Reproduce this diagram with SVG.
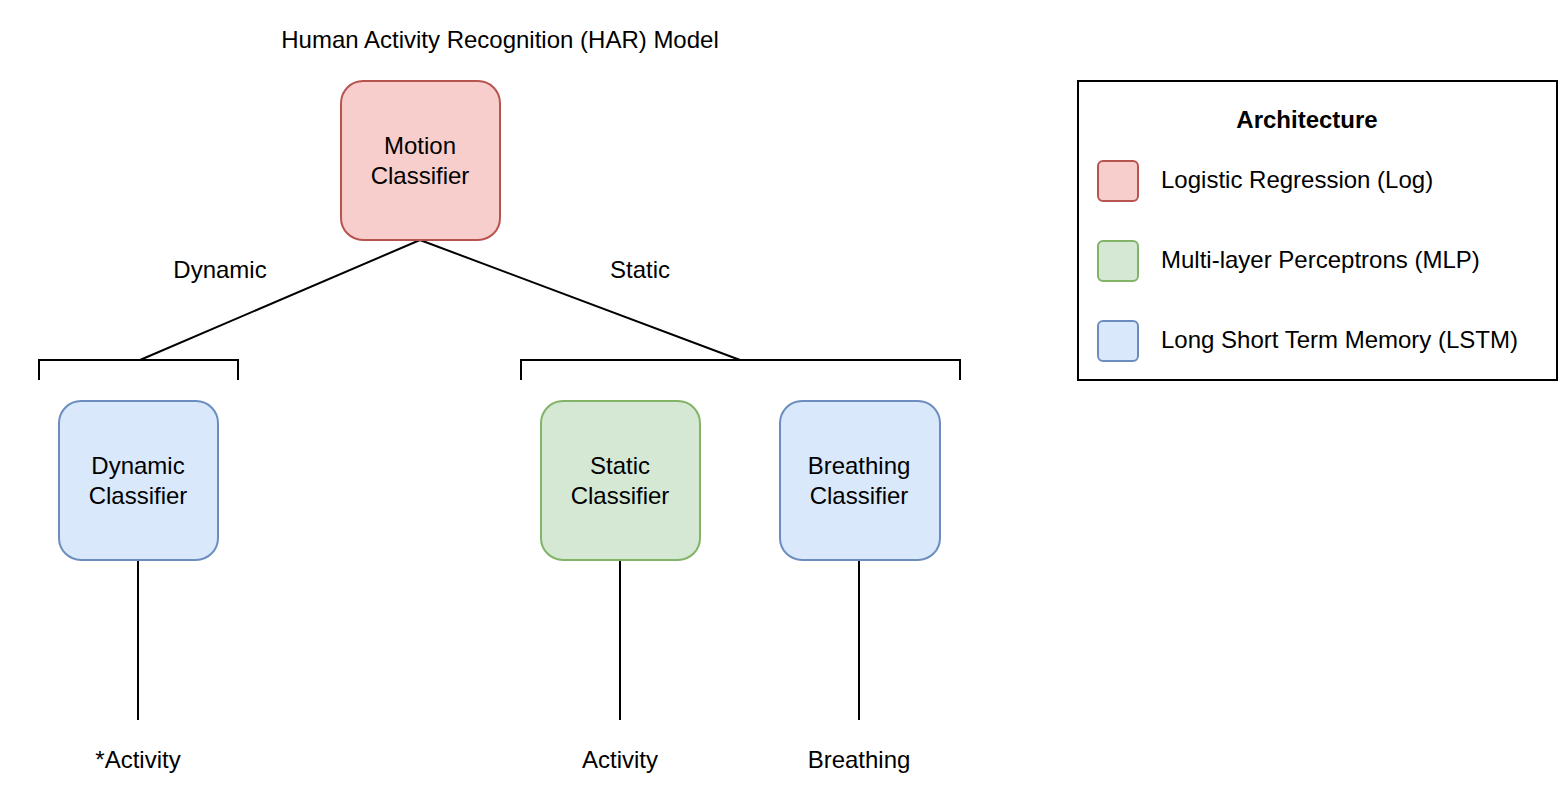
<svg xmlns="http://www.w3.org/2000/svg" width="1561" height="805" viewBox="0 0 1561 805">
<style>
text{font-family:"Liberation Sans",Arial,Helvetica,sans-serif;font-size:24px;fill:#000;dominant-baseline:central}
.c{text-anchor:middle}
.red{fill:#f8cecc;stroke:#b85450;stroke-width:2}
.green{fill:#d5e8d4;stroke:#82b366;stroke-width:2}
.blue{fill:#dae8fc;stroke:#6c8ebf;stroke-width:2}
.ln{fill:none;stroke:#000;stroke-width:2}
</style>
<rect width="1561" height="805" fill="#fff"/>
<text class="c" x="500" y="39">Human Activity Recognition (HAR) Model</text>
<g id="connectors">
<path class="ln" d="M420,240 L140,360"/>
<path class="ln" d="M420,240 L740,360"/>
<path class="ln" d="M39,380 V360 H238 V380"/>
<path class="ln" d="M521,380 V360 H960 V380"/>
<path class="ln" d="M138,560 V720"/>
<path class="ln" d="M620,560 V720"/>
<path class="ln" d="M859,560 V720"/>
<text class="c" x="220" y="269">Dynamic</text>
<text class="c" x="640" y="269">Static</text>
</g>
<g id="motion">
<rect class="red" x="341" y="81" width="159" height="159" rx="22"/>
<text class="c" x="420" y="145">Motion</text>
<text class="c" x="420" y="175">Classifier</text>
</g>
<g id="dynamic">
<rect class="blue" x="59" y="401" width="159" height="159" rx="22"/>
<text class="c" x="138" y="465">Dynamic</text>
<text class="c" x="138" y="495">Classifier</text>
</g>
<g id="static">
<rect class="green" x="541" y="401" width="159" height="159" rx="22"/>
<text class="c" x="620" y="465">Static</text>
<text class="c" x="620" y="495">Classifier</text>
</g>
<g id="breathing">
<rect class="blue" x="780" y="401" width="160" height="159" rx="22"/>
<text class="c" x="859" y="465">Breathing</text>
<text class="c" x="859" y="495">Classifier</text>
</g>
<g id="out-dyn"><text class="c" x="138" y="759">*Activity</text></g>
<g id="out-static"><text class="c" x="620" y="759">Activity</text></g>
<g id="out-breath"><text class="c" x="859" y="759">Breathing</text></g>
<g id="legend">
<rect x="1078" y="81" width="479" height="299" fill="#fff" stroke="#000" stroke-width="2"/>
<text class="c" x="1307" y="119" font-weight="bold">Architecture</text>
<rect class="red" x="1098" y="161" width="40" height="40" rx="5"/>
<text x="1161" y="179">Logistic Regression (Log)</text>
<rect class="green" x="1098" y="241" width="40" height="40" rx="5"/>
<text x="1161" y="259">Multi-layer Perceptrons (MLP)</text>
<rect class="blue" x="1098" y="321" width="40" height="40" rx="5"/>
<text x="1161" y="339">Long Short Term Memory (LSTM)</text>
</g>
</svg>
